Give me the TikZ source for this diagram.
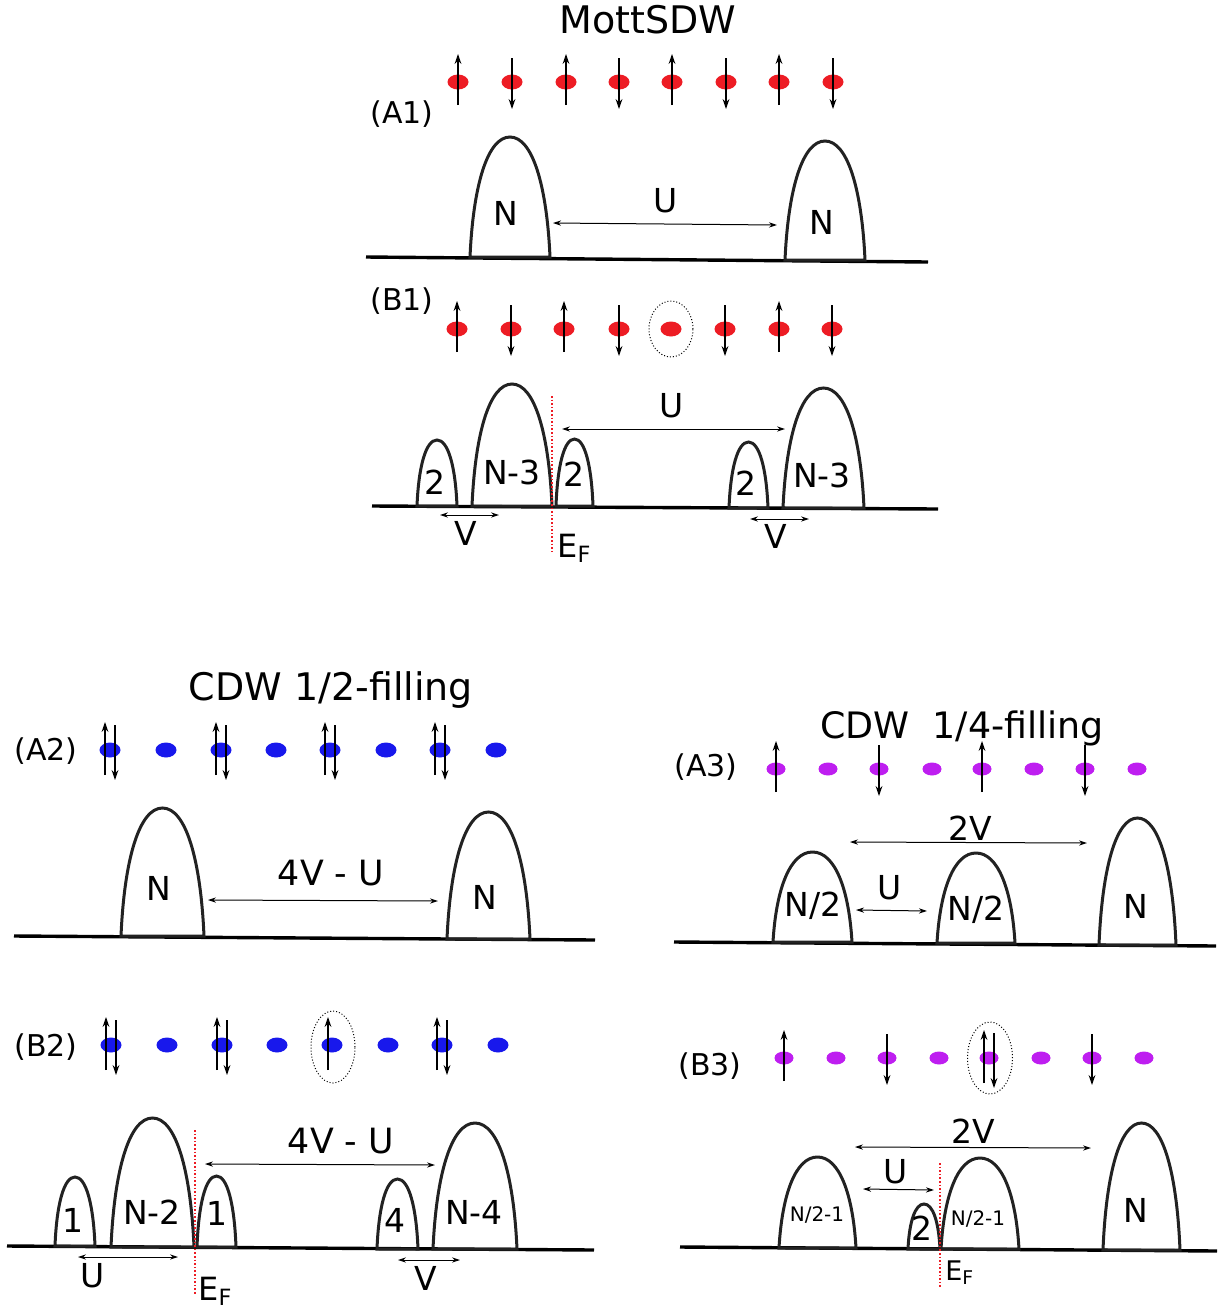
\documentclass[tikz,border=0pt]{standalone}
\usepackage{fontspec}
\setmainfont{DejaVu Sans}
\usetikzlibrary{shapes.geometric, arrows.meta}

\definecolor{spinred}{RGB}{237,28,36}
\definecolor{spinblue}{RGB}{24,24,236}
\definecolor{spinpurple}{RGB}{190,30,240}
\definecolor{humpgray}{RGB}{34,34,34}

% one band: left, right, top, base (pixel units)
\newcommand{\hump}[4]{%
  \pgfmathsetmacro{\hw}{#2-#1}\pgfmathsetmacro{\hh}{#4-#3}
  \draw[humpline] (#1,#4) .. controls (#1+0.04*\hw,#3+0.4*\hh) and (#1+0.22*\hw,#3) .. (#1+0.5*\hw,#3)
    .. controls (#2-0.22*\hw,#3) and (#2-0.04*\hw,#3+0.4*\hh) .. (#2,#4) -- cycle;}

% row of sites: name, y, style, list x/code (0 none, 1 up, 2 down, 3 both, 4 up off-centre)
\newcommand{\spinrow}[4]{%
  \foreach \x/\k [count=\i] in {#4} {
    \node[#3] (#1\i) at (\x,#2) {};
    \ifcase\k
    \or \draw[spin] (\x,#2+23) -- (\x,#2-28);
    \or \draw[spin] (\x,#2-24) -- (\x,#2+27);
    \or \draw[spin] (\x-5,#2+25) -- (\x-5,#2-28);
        \draw[spin] (\x+5,#2-25) -- (\x+5,#2+30);
    \or \draw[spin] (\x-4,#2+25) -- (\x-4,#2-28);
    \fi
  }}

\begin{document}
\begin{tikzpicture}[x=0.5pt, y=-0.5pt,
  site/.style={ellipse, inner sep=0pt, minimum width=10.5pt, minimum height=7.5pt},
  psite/.style={ellipse, inner sep=0pt, minimum width=9.5pt, minimum height=6.5pt, fill=spinpurple},
  spin/.style={-{Stealth[length=5pt,width=3.4pt]}, line width=0.7pt},
  gap/.style={{Stealth[length=4pt,width=2.6pt]}-{Stealth[length=4pt,width=2.6pt]}, line width=0.5pt},
  humpline/.style={line width=1.5pt, draw=humpgray},
  floor/.style={line width=1.7pt},
  fermi/.style={spinred, densely dotted, line width=0.8pt},
  hole/.style={draw, densely dotted, ellipse, line width=0.5pt, inner sep=0pt},
  ttl/.style={font=\fontsize{19}{22}\selectfont},
  tag/.style={font=\fontsize{15}{18}\selectfont},
  lbl/.style={font=\fontsize{16.5}{19}\selectfont},
  sml/.style={font=\fontsize{10}{12}\selectfont},
  efl/.style={font=\fontsize{16}{19}\selectfont, inner sep=0pt, anchor=base west}]
  \useasboundingbox (0,0) rectangle (1217,1308);

  % Mott SDW, ground state
  \node[ttl, anchor=base] (t1) at (648,33) {MottSDW};
  \node[tag] (a1) at (402,114) {(A1)};
  \spinrow{a1s}{82}{site, fill=spinred}{458/1,512/2,566/1,619/2,672/1,726/2,779/1,833/2}
  \draw[floor] (366,257) -- (928,262);
  \hump{470}{550}{137}{257}
  \hump{785}{865}{141}{260}
  \node[lbl] (a1n1) at (506,213) {N};
  \node[lbl] (a1n2) at (822,222) {N};
  \coordinate (a1ul) at (553,223); \coordinate (a1ur) at (777,225);
  \draw[gap] (a1ul) -- (a1ur);
  \node[lbl] (a1u) at (666,201) {U};

  % Mott SDW, hole
  \node[tag] (b1) at (402,301) {(B1)};
  \spinrow{b1s}{329}{site, fill=spinred}{457/1,511/2,564/1,619/2,671/0,725/2,779/1,832/2}
  \node[hole, minimum width=22pt, minimum height=28pt] (b1h) at (b1s5) {};
  \draw[floor] (372,506) -- (938,509);
  \hump{417}{457}{440}{506}
  \hump{472}{552}{384}{506}
  \hump{556}{593}{439}{506}
  \hump{729}{768}{442}{508}
  \hump{783}{864}{388}{508}
  \node[lbl] (b1l1) at (435,482) {2};
  \node[lbl] (b1l2) at (512,472) {N-3};
  \node[lbl] (b1l3) at (574,474) {2};
  \node[lbl] (b1l4) at (746,483) {2};
  \node[lbl] (b1l5) at (822,475) {N-3};
  \coordinate (b1ft) at (552,396); \coordinate (b1fb) at (552,552);
  \draw[fermi] (b1ft) -- (b1fb);
  \node[efl] (b1ef) at (557,557) {E\textsubscript{F}};
  \coordinate (b1ul) at (562,429); \coordinate (b1ur) at (785,429);
  \draw[gap] (b1ul) -- (b1ur);
  \node[lbl] (b1u) at (672,406) {U};
  \coordinate (b1vl) at (440,515); \coordinate (b1vr) at (499,515);
  \draw[gap] (b1vl) -- (b1vr);
  \node[lbl] (b1v) at (466,533) {V};
  \coordinate (b1wl) at (750,519); \coordinate (b1wr) at (809,519);
  \draw[gap] (b1wl) -- (b1wr);
  \node[lbl] (b1w) at (776,536) {V};

  % CDW half filling, ground state
  \node[ttl, anchor=base] (t2) at (331,700) {CDW 1/2-filling};
  \node[tag] (a2) at (46,751) {(A2)};
  \spinrow{a2s}{750}{site, fill=spinblue}{110/3,166/0,221/3,276/0,330/3,386/0,440/3,496/0}
  \draw[floor] (14,936) -- (595,940);
  \hump{121}{204}{808}{936}
  \hump{447}{530}{812}{939}
  \node[lbl] (a2n1) at (159,888) {N};
  \node[lbl] (a2n2) at (485,897) {N};
  \coordinate (a2gl) at (208,900); \coordinate (a2gr) at (438,901);
  \draw[gap] (a2gl) -- (a2gr);
  \node[lbl, font=\fontsize{17.4}{20}\selectfont] (a2g) at (331,873) {4V - U};

  % CDW half filling, hole
  \node[tag] (b2) at (46,1047) {(B2)};
  \spinrow{b2s}{1045}{site, fill=spinblue}{111/3,167/0,222/3,277/0,332/4,388/0,442/3,498/0}
  \node[hole, minimum width=22pt, minimum height=36pt] (b2h) at (333,1047) {};
  \draw[floor] (7,1246) -- (594,1250);
  \hump{55}{95}{1177}{1246}
  \hump{111}{194}{1118}{1247}
  \hump{197}{236}{1176}{1247}
  \hump{377}{418}{1179}{1249}
  \hump{433}{517}{1123}{1249}
  \node[lbl] (b2l1) at (73,1220) {1};
  \node[lbl] (b2l2) at (152,1212) {N-2};
  \node[lbl] (b2l3) at (217,1213) {1};
  \node[lbl] (b2l4) at (395,1220) {4};
  \node[lbl] (b2l5) at (474,1212) {N-4};
  \coordinate (b2ft) at (195,1130); \coordinate (b2fb) at (195,1295);
  \draw[fermi] (b2ft) -- (b2fb);
  \node[efl] (b2ef) at (198,1300) {E\textsubscript{F}};
  \coordinate (b2gl) at (205,1164); \coordinate (b2gr) at (435,1165);
  \draw[gap] (b2gl) -- (b2gr);
  \node[lbl, font=\fontsize{17.4}{20}\selectfont] (b2g) at (341,1141) {4V - U};
  \coordinate (b2ul) at (78,1257); \coordinate (b2ur) at (178,1257);
  \draw[gap] (b2ul) -- (b2ur);
  \node[lbl] (b2u) at (93,1276) {U};
  \coordinate (b2vl) at (398,1260); \coordinate (b2vr) at (460,1260);
  \draw[gap] (b2vl) -- (b2vr);
  \node[lbl] (b2v) at (426,1278) {V};

  % CDW quarter filling, ground state
  \node[ttl, anchor=base, font=\fontsize{18.2}{21}\selectfont] (t3) at (962,738) {CDW~~1/4-filling};
  \node[tag] (a3) at (706,767) {(A3)};
  \spinrow{a3s}{769}{psite}{776/1,828/0,879/2,932/0,982/1,1034/0,1085/2,1137/0}
  \draw[floor] (674,942) -- (1216,946);
  \hump{773}{852}{852}{942}
  \hump{937}{1015}{853}{943}
  \hump{1099}{1176}{818}{945}
  \node[lbl] (a3n1) at (813,906) {N/2};
  \node[lbl] (a3n2) at (976,910) {N/2};
  \node[lbl] (a3n3) at (1136,906) {N};
  \coordinate (a3gl) at (850,842); \coordinate (a3gr) at (1087,843);
  \draw[gap] (a3gl) -- (a3gr);
  \node[lbl] (a3g) at (970,828) {2V};
  \coordinate (a3ul) at (856,910); \coordinate (a3ur) at (927,911);
  \draw[gap] (a3ul) -- (a3ur);
  \node[lbl] (a3u) at (890,888) {U};

  % CDW quarter filling, double occupancy
  \node[tag] (b3) at (710,1066) {(B3)};
  \spinrow{b3s}{1058}{psite}{784/1,836/0,887/2,939/0,989/3,1041/0,1092/2,1144/0}
  \node[hole, minimum width=22.5pt, minimum height=36pt] (b3h) at (990,1058) {};
  \draw[floor] (680,1247) -- (1217,1251);
  \hump{779}{856}{1157}{1248}
  \hump{908}{940}{1204}{1249}
  \hump{941}{1019}{1158}{1249}
  \hump{1103}{1180}{1123}{1250}
  \node[sml] (b3l1) at (817,1215) {N/2-1};
  \node[lbl] (b3l2) at (922,1228) {2};
  \node[sml] (b3l3) at (978,1219) {N/2-1};
  \node[lbl] (b3l4) at (1136,1210) {N};
  \coordinate (b3ft) at (940,1163); \coordinate (b3fb) at (940,1288);
  \draw[fermi] (b3ft) -- (b3fb);
  \node[efl, font=\fontsize{13.5}{16}\selectfont] (b3ef) at (945,1280) {E\textsubscript{F}};
  \coordinate (b3gl) at (855,1147); \coordinate (b3gr) at (1091,1148);
  \draw[gap] (b3gl) -- (b3gr);
  \node[lbl] (b3g) at (973,1131) {2V};
  \coordinate (b3ul) at (863,1189); \coordinate (b3ur) at (934,1190);
  \draw[gap] (b3ul) -- (b3ur);
  \node[lbl] (b3u) at (896,1172) {U};
\end{tikzpicture}
\end{document}
